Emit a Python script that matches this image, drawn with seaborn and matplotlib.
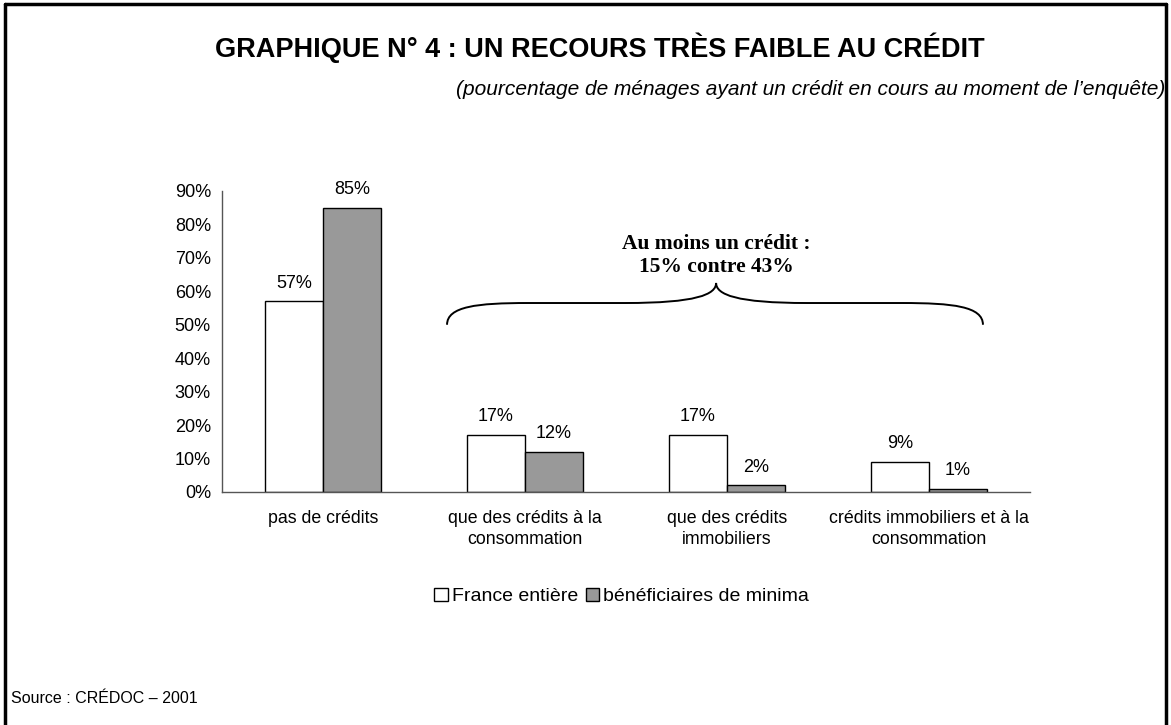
import matplotlib
matplotlib.use("Agg")
import matplotlib.pyplot as plt
import matplotlib.patches as mpatches
from matplotlib.path import Path
from matplotlib.lines import Line2D
import seaborn as sns
import pandas as pd

categories = [
    "pas de crédits",
    "que des crédits à la\nconsommation",
    "que des crédits\nimmobiliers",
    "crédits immobiliers et à la\nconsommation",
]
series_names = ["France entière", "bénéficiaires de minima"]
france_entiere = [57, 17, 17, 9]
beneficiaires = [85, 12, 2, 1]
y_ticks = [0, 10, 20, 30, 40, 50, 60, 70, 80, 90]

df = pd.DataFrame({
    "categorie": categories * 2,
    "serie": [series_names[0]] * 4 + [series_names[1]] * 4,
    "valeur": france_entiere + beneficiaires,
})

sns.set_style("white")
plt.rcParams["font.family"] = ["Liberation Sans", "DejaVu Sans"]
plt.rcParams["text.color"] = "black"
plt.rcParams["xtick.color"] = "black"
plt.rcParams["ytick.color"] = "black"
plt.rcParams["axes.labelcolor"] = "black"

fig = plt.figure(figsize=(11.71, 7.25), dpi=100)
ax = fig.add_axes([0.1896, 0.3214, 0.6900, 0.4152])

palette = {series_names[0]: "#ffffff", series_names[1]: "#999999"}
sns.barplot(data=df, x="categorie", y="valeur", hue="serie", order=categories,
            hue_order=series_names, palette=palette, width=0.575,
            edgecolor="black", linewidth=1.0, ax=ax, legend=False)

for cont in ax.containers:
    ax.bar_label(cont, labels=[f"{v:.0f}%" for v in cont.datavalues],
                 padding=7, fontsize=13)

ax.set_ylim(0, 90)
ax.set_xlim(-0.5, 3.5)
ax.set_yticks(y_ticks)
ax.set_yticklabels([f"{t}%" for t in y_ticks], fontsize=13)
ax.set_xlabel("")
ax.set_ylabel("")
ax.set_xticks(range(len(categories)))
ax.set_xticklabels(categories, fontsize=12.8, linespacing=1.3)
ax.tick_params(axis="x", which="major", length=0, pad=13)
ax.set_xticks([-0.5, 0.5, 1.5, 2.5, 3.5], minor=True)
ax.tick_params(axis="x", which="minor", length=5, width=0.8, direction="out", color="black")
ax.tick_params(axis="y", length=5, width=0.8, direction="out", color="black", pad=3)
for s in ["top", "right"]:
    ax.spines[s].set_visible(False)
for s in ["left", "bottom"]:
    ax.spines[s].set_color("#555555")
    ax.spines[s].set_linewidth(1.0)

# curly brace grouping the three credit categories
xl, xm, xr = 0.614, 1.946, 3.267
yb, yh, yt = 50.0, 56.5, 62.5
verts = [
    (xl, yb), (xl, yh - 1.0), (xl + 0.15, yh), (xl + 0.4, yh),
    (xm - 0.45, yh),
    (xm - 0.1, yh), (xm, yh + 2.5), (xm, yt),
    (xm, yh + 2.5), (xm + 0.1, yh), (xm + 0.45, yh),
    (xr - 0.4, yh),
    (xr - 0.15, yh), (xr, yh - 1.0), (xr, yb),
]
codes = [Path.MOVETO, Path.CURVE4, Path.CURVE4, Path.CURVE4,
         Path.LINETO,
         Path.CURVE4, Path.CURVE4, Path.CURVE4,
         Path.CURVE4, Path.CURVE4, Path.CURVE4,
         Path.LINETO,
         Path.CURVE4, Path.CURVE4, Path.CURVE4]
ax.add_patch(mpatches.PathPatch(Path(verts, codes), facecolor="none",
                                edgecolor="black", linewidth=1.4, clip_on=False))
ax.text(xm, 70.6, "Au moins un crédit :\n15% contre 43%", ha="center", va="center",
        fontsize=15.5, fontweight="bold", family=["Liberation Serif", "DejaVu Serif"],
        linespacing=1.2)

handles = [mpatches.Patch(facecolor=palette[n], edgecolor="black", linewidth=1.0, label=n)
           for n in series_names]
fig.legend(handles=handles, loc="center", bbox_to_anchor=(0.531, 0.177), ncol=2,
           frameon=False, fontsize=14, handlelength=0.7, handleheight=0.7,
           handletextpad=0.2, columnspacing=0.4)

fig.text(0.512, 0.934, "GRAPHIQUE N° 4 : UN RECOURS TRÈS FAIBLE AU CRÉDIT",
         ha="center", va="center", fontsize=19.5, fontweight="bold")
fig.text(0.995, 0.876,
         "(pourcentage de ménages ayant un crédit en cours au moment de l’enquête)",
         ha="right", va="center", fontsize=15, style="italic")
fig.text(0.009, 0.036, "Source : CRÉDOC – 2001", ha="left", va="center", fontsize=11.5)

# frame around the figure
for xs, ys in [([0.004, 0.004], [-0.01, 0.994]), ([0.004, 0.996], [0.994, 0.994]),
               ([0.996, 0.996], [-0.01, 0.994])]:
    fig.add_artist(Line2D(xs, ys, color="black", linewidth=2.5, transform=fig.transFigure))

fig.savefig("out.png", dpi=100)
